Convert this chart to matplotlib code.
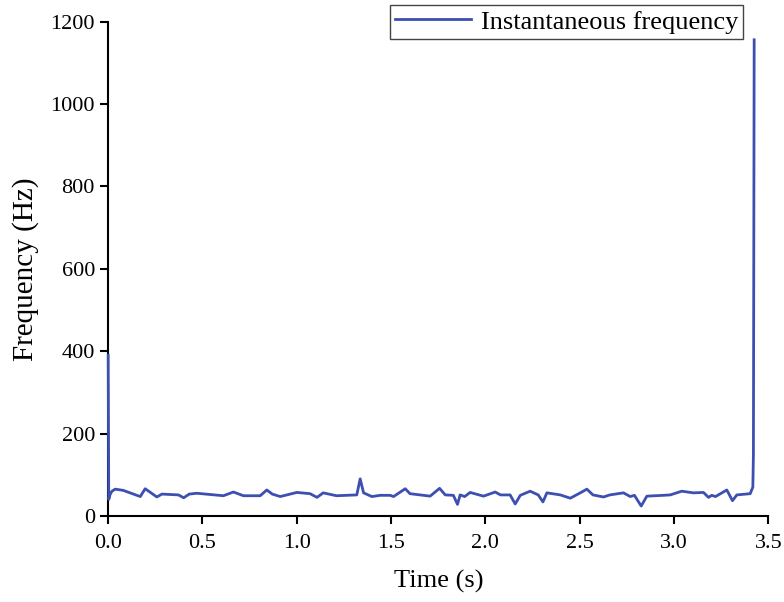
import numpy as np
import matplotlib.pyplot as plt

plt.rcParams['font.family'] = ['Liberation Serif', 'DejaVu Serif']

# instantaneous frequency
t = [0.0, 0.003, 0.01, 0.02, 0.037, 0.08, 0.17, 0.196, 0.258, 0.285, 0.373, 0.40, 0.43,
     0.47, 0.611, 0.664, 0.717, 0.806, 0.841, 0.87, 0.912, 1.0, 1.07, 1.107, 1.14,
     1.21, 1.318, 1.336, 1.354, 1.398, 1.442, 1.495, 1.513, 1.575, 1.60, 1.707, 1.757,
     1.787, 1.83, 1.852, 1.866, 1.89, 1.919, 1.99, 2.052, 2.08, 2.131, 2.158, 2.185,
     2.237, 2.28, 2.305, 2.326, 2.397, 2.45, 2.503, 2.538, 2.57, 2.626, 2.66, 2.732,
     2.768, 2.79, 2.826, 2.856, 2.944, 2.98, 3.041, 3.103, 3.156, 3.183, 3.20, 3.22,
     3.28, 3.31, 3.333, 3.404, 3.418, 3.421, 3.425]
freq = [390, 40, 52, 60, 65, 62, 47, 66, 46, 53, 51, 44, 53,
        55, 49, 58, 49, 49, 63, 53, 47, 57, 54, 45, 56,
        49, 51, 90, 56, 47, 50, 50, 47, 66, 54, 48, 67,
        51, 50, 28, 51, 47, 57, 48, 58, 51, 51, 29, 50,
        60, 51, 34, 56, 51, 43, 56, 65, 51, 46, 51, 56,
        47, 50, 24, 48, 50, 51, 60, 56, 57, 45, 50, 47,
        63, 37, 51, 54, 70, 150, 1156]

xticks = [0.0, 0.5, 1.0, 1.5, 2.0, 2.5, 3.0, 3.5]
yticks = [0, 200, 400, 600, 800, 1000, 1200]

fig = plt.figure(figsize=(7.84, 6.02), dpi=100)
ax = fig.add_axes([0.138, 0.143, 0.842, 0.821])

ax.plot(t, freq, color='#3d4fb0', lw=2.0, label='Instantaneous frequency',
        zorder=3, clip_on=False)

ax.set_xlim(0, 3.5)
ax.set_ylim(0, 1200)
ax.set_xticks(xticks)
ax.set_xticklabels([f'{v:.1f}' for v in xticks])
ax.set_yticks(yticks)

ax.spines['top'].set_visible(False)
ax.spines['right'].set_visible(False)
ax.spines['left'].set_linewidth(1.5)
ax.spines['bottom'].set_linewidth(1.5)
ax.tick_params(direction='out', length=6, width=1.5, labelsize=16)
ax.tick_params(axis='x', pad=7)

ax.set_xlabel('Time (s)', fontsize=19, labelpad=12)
ax.set_ylabel('Frequency (Hz)', fontsize=21, labelpad=8)

leg = ax.legend(loc='upper right', bbox_to_anchor=(0.962, 1.034), fontsize=19,
                fancybox=False, framealpha=1, borderpad=0.2, borderaxespad=0,
                handlelength=2.9, handletextpad=0.35)
leg.get_frame().set_edgecolor('#444444')
leg.get_frame().set_linewidth(1.0)

fig.savefig('out.png', dpi=100)
